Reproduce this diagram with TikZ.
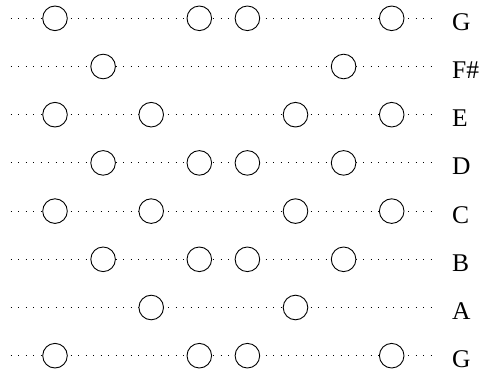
\documentclass[tikz,border=0pt]{standalone}
\usepackage{fontspec}
\setmainfont{Liberation Serif}

\begin{document}
\begin{tikzpicture}[x=1pt,y=-1pt,
	hole/.style={circle, draw, line width=0.9pt, fill=white, minimum size=24.6pt, inner sep=0pt},
	stringline/.style={line width=1pt, dash pattern=on 1pt off 6.5pt},
	notename/.style={anchor=base west, inner sep=0pt, font=\fontsize{25.5}{25.5}\selectfont}]
	\useasboundingbox (0,0) rectangle (482,372);
	% one dotted line per note, holes on top of it
	\foreach \lbl/\cols [count=\r from 0] in {G/{0,3,4,7}, F\#/{1,6}, E/{0,2,5,7}, D/{1,3,4,6},
			C/{0,2,5,7}, B/{1,3,4,6}, A/{2,5}, G/{0,3,4,7}} {
		\coordinate (s\r-a) at (10.5, 18.3+48.2*\r);
		\coordinate (s\r-b) at (436, 18.3+48.2*\r);
		\draw[stringline] (s\r-a) -- (s\r-b);
		\foreach \c in \cols
			\node[hole] (h\r-\c) at (55+48.1*\c, 18.3+48.2*\r) {};
		\node[notename] (n\r) at (452, 30.3+48.2*\r) {\lbl};
	}
\end{tikzpicture}
\end{document}
